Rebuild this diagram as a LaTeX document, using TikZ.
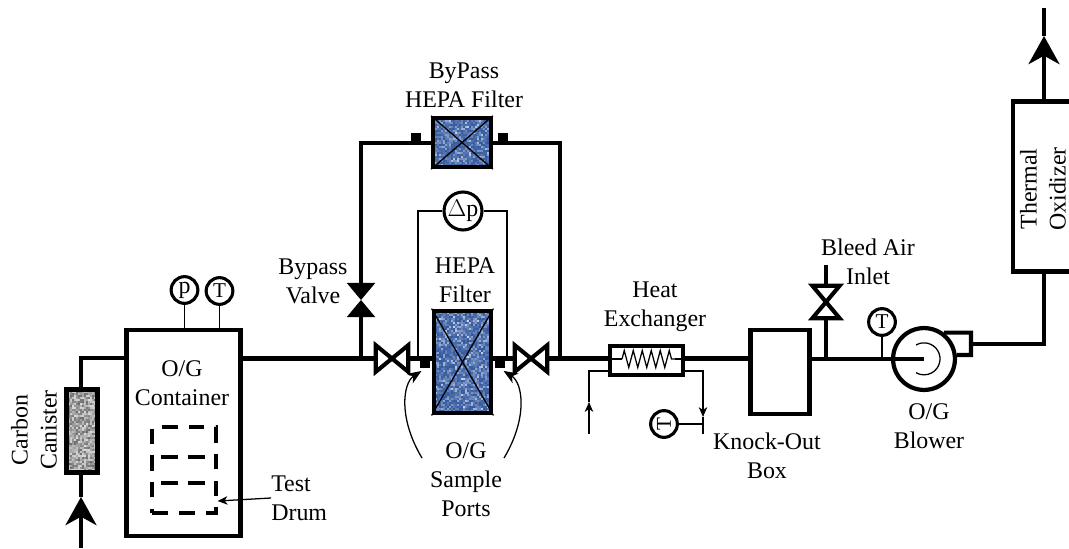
\documentclass[tikz,border=0pt]{standalone}
\usepackage{fontspec}
\usetikzlibrary{arrows.meta,decorations.pathmorphing}
\setmainfont{Liberation Serif}
\definecolor{hepablue}{RGB}{50,88,158}
\definecolor{canistergray}{RGB}{70,70,70}
\tikzset{
	pipe/.style={line width=2.9pt},
	sense/.style={line width=0.9pt},
	flowtip/.style={-{Stealth[length=20pt,width=22pt,inset=6pt]}},
	smalltip/.style={-{Stealth[length=7pt,width=6pt,inset=2pt]}},
	porttip/.style={-{Stealth[length=10pt,width=8pt,inset=3pt]}},
	vessel/.style={draw, line width=3pt, inner sep=0pt},
	gauge/.style={draw, circle, line width=2.2pt, fill=white, inner sep=0pt, minimum size=19pt, font=\fontsize{15}{15}\selectfont},
	valvebox/.style={inner sep=0pt, minimum width=22.7pt, minimum height=18.5pt},
	port/.style={fill=black, inner sep=0pt, minimum size=7pt},
	caption/.style={align=center, font=\fontsize{17}{20.6}\selectfont}
}
\begin{document}
\begin{tikzpicture}[x=0.025cm,y=0.025cm]
	\useasboundingbox (0,0) rectangle (1069,548);
	\pgfmathsetseed{11}
	% filter media
	\foreach \i in {433,435,...,491} {\foreach \j in {134,136,...,237} {
		\pgfmathsetmacro{\tint}{int(100-75*rnd*rnd)}
		\fill[hepablue!\tint!white] (\i,\j) rectangle ++(2.3,2.3);
	}}
	\foreach \i in {433,435,...,491} {\foreach \j in {380,382,...,430} {
		\pgfmathsetmacro{\tint}{int(100-75*rnd*rnd)}
		\fill[hepablue!\tint!white] (\i,\j) rectangle ++(2.3,2.3);
	}}
	\foreach \i in {66,68,...,97} {\foreach \j in {75,77,...,158} {
		\pgfmathsetmacro{\tint}{int(20+60*rnd)}
		\fill[canistergray!\tint!white] (\i,\j) rectangle ++(2.3,2.3);
	}}
	% vessels
	\node[vessel, minimum width=81pt, minimum height=147pt] (container) at (183.5,115) {};
	\node[vessel, minimum width=22pt, minimum height=59pt] (canister) at (82,117) {};
	\node[vessel, minimum width=41pt, minimum height=73pt] (hepa) at (462.5,186) {};
	\node[vessel, minimum width=41pt, minimum height=35pt] (bypass) at (462,405.5) {};
	\node[vessel, minimum width=52pt, minimum height=21pt] (exchanger) at (646.5,187.5) {};
	\node[vessel, minimum width=42pt, minimum height=60pt] (knockout) at (780,176) {};
	\node[vessel, minimum width=70pt, minimum height=121pt] (oxidizer) at (1062,361.5) {};
	\node[vessel, circle, minimum size=44pt] (blower) at (924,189) {};
	\node[draw, line width=2.8pt, dash pattern=on 11pt off 8pt, inner sep=0pt, minimum width=45pt, minimum height=61pt] (drum) at (184,78) {};
	\draw[sense] (hepa.north west) -- (hepa.south east) (hepa.north east) -- (hepa.south west);
	\draw[sense] (bypass.north west) -- (bypass.south east) (bypass.north east) -- (bypass.south west);
	% valves
	\node[valvebox] (leftvalve) at (392,189.5) {};
	\node[valvebox] (rightvalve) at (531,189.5) {};
	\node[valvebox, minimum width=19pt, minimum height=22.7pt] (bleedvalve) at (826,246) {};
	\node[valvebox, minimum width=20pt, minimum height=24pt] (bypassvalve) at (361,248) {};
	\foreach \v in {leftvalve,rightvalve} {
		\draw[pipe] (\v.north west) -- (\v.south east) -- (\v.north east) -- (\v.south west) -- cycle;
	}
	\draw[pipe] (bleedvalve.north west) -- (bleedvalve.north east) -- (bleedvalve.south west) -- (bleedvalve.south east) -- cycle;
	\fill (bypassvalve.north west) -- (bypassvalve.north east) -- (bypassvalve.south west) -- (bypassvalve.south east) -- cycle;
	% pipe junctions
	\coordinate (inletend) at (81,0);
	\coordinate (inlettip) at (81,51);
	\coordinate (inletbend) at (81,190);
	\coordinate (bypasstee) at (361,189.5);
	\coordinate (bypassleft) at (361,405);
	\coordinate (bypassright) at (560,405);
	\coordinate (returntee) at (560,189.5);
	\coordinate (bleedtee) at (826,189.5);
	\coordinate (bleedend) at (826,283);
	\coordinate (outletbend) at (1044,204);
	\coordinate (voluteout) at (971,204);
	\coordinate (volutecorner) at (971,193);
	\coordinate (exhausttip) at (1044,512);
	\coordinate (exhaustend) at (1044,540);
	% pipes
	\draw[pipe, flowtip] (inletend) -- (inlettip);
	\draw[pipe] (inlettip) -- (canister.south -| inlettip);
	\draw[pipe] (canister.north -| inletbend) -- (inletbend) -- (inletbend -| container.west);
	\draw[pipe] (bypasstee -| container.east) -- (leftvalve.west);
	\draw[pipe] (leftvalve.east) -- (hepa.west |- leftvalve);
	\draw[pipe] (hepa.east |- rightvalve) -- (rightvalve.west);
	\draw[pipe] (rightvalve.east) -- (exchanger.west |- rightvalve);
	\draw[pipe] (exchanger.east |- rightvalve) -- (knockout.west |- rightvalve);
	\draw[pipe] (knockout.east |- blower) -- (blower.center);
	\draw[pipe] (bypasstee) -- (bypassvalve.south);
	\draw[pipe] (bypassvalve.north) -- (bypassleft) -- (bypass.west |- bypassleft);
	\draw[pipe] (bypass.east |- bypassright) -- (bypassright) -- (returntee);
	\draw[pipe] (bleedtee) -- (bleedvalve.south);
	\draw[pipe] (bleedvalve.north) -- (bleedend);
	\draw[pipe, flowtip] (oxidizer.north -| exhausttip) -- (exhausttip);
	\draw[pipe] (exhausttip) -- (exhaustend);
	\draw[pipe] (oxidizer.south -| outletbend) -- (outletbend) -- (voluteout);
	\draw[pipe] (blower.53) -| (volutecorner) -- (blower.7);
	\draw[sense] (916,203) arc (120:-120:16);
	% test drum shelves
	\coordinate (shelfa) at (161,91);
	\coordinate (shelfb) at (161,65);
	\draw[line width=2.8pt, dash pattern=on 12pt off 7pt] (shelfa) -- (shelfa -| drum.east);
	\draw[line width=2.8pt, dash pattern=on 12pt off 7pt] (shelfb) -- (shelfb -| drum.east);
	% sample ports
	\node[port] (portleft) at (425,184.5) {};
	\node[port] (portright) at (500,184.5) {};
	\node[port] (portbya) at (416,410) {};
	\node[port] (portbyb) at (503,410) {};
	% gauges
	\node[gauge, font=\fontsize{17}{17}\selectfont] (pgauge) at (184.5,258) {p};
	\node[gauge] (tgauge) at (219.5,257) {T};
	\node[gauge, minimum size=27pt, font=\fontsize{17}{17}\selectfont] (dpgauge) at (463,337) {$\Delta$p};
	\node[gauge, rotate=90] (coolgauge) at (664,124) {T};
	\node[gauge] (blowergauge) at (882,226) {T};
	\draw[sense] (pgauge) -- (pgauge |- container.north);
	\draw[sense] (tgauge) -- (tgauge |- container.north);
	\draw[sense] (blowergauge.south) -- (blowergauge |- blower);
	\coordinate (dpleft) at (418,337);
	\coordinate (dpright) at (507,337);
	\draw[sense] (dpgauge.west) -- (dpleft) -- (dpleft |- leftvalve);
	\draw[sense] (dpgauge.east) -- (dpright) -- (dpright |- leftvalve);
	% heat exchanger
	\coordinate (coilin) at (622,189);
	\coordinate (coilout) at (675,189);
	\draw[sense] (exchanger.west |- coilin) -- (coilin);
	\draw[sense, decorate, decoration={zigzag, segment length=6.4pt, amplitude=6pt}] (coilin) -- (coilout);
	\draw[sense] (coilout) -- (exchanger.east |- coilout);
	\coordinate (coolinbend) at (589,177);
	\coordinate (coolintip) at (589,146);
	\coordinate (coolinend) at (589,114);
	\coordinate (cooloutbend) at (703,177);
	\coordinate (coolouttip) at (703,131);
	\coordinate (coolend) at (703,114);
	\draw[sense] (exchanger.west |- coolinbend) -- (coolinbend) -- (coolintip);
	\draw[sense, smalltip] (coolinend) -- (coolintip);
	\draw[sense, smalltip] (exchanger.east |- cooloutbend) -- (cooloutbend) -- (coolouttip);
	\draw[sense] (coolouttip) -- (coolend);
	\draw[sense] (coolgauge) -- (coolgauge -| coolend);
	% captions
	\node[caption, rotate=90] (canistertext) at (34,118) {Carbon\\Canister};
	\node[caption] (containertext) at (182,165) {O/G\\Container};
	\node[caption, align=left, anchor=west, inner sep=0pt] (drumtext) at (271,50) {Test\\Drum};
	\node[caption] (valvetext) at (313,267) {Bypass\\Valve};
	\node[caption] (bypasstext) at (464,463) {ByPass\\HEPA Filter};
	\node[caption] (hepatext) at (465,268) {HEPA\\Filter};
	\node[caption] (porttext) at (466,68) {O/G\\Sample\\Ports};
	\node[caption] (exchangertext) at (655,241) {Heat\\Exchanger};
	\node[caption] (knockouttext) at (767,92) {Knock-Out\\Box};
	\node[caption] (bleedtext) at (868,286) {Bleed Air\\Inlet};
	\node[caption] (blowertext) at (929,122) {O/G\\Blower};
	\node[caption, rotate=90] (oxidizertext) at (1043,359) {Thermal\\Oxidizer};
	% leaders
	\draw[sense, smalltip] (drumtext.west) -- (drum.east |- 0,47);
	\draw[sense, porttip, shorten >=3pt] (422,90) .. controls (398,130) and (403,165) .. (portleft.south);
	\draw[sense, porttip, shorten >=3pt] (504,90) .. controls (528,130) and (523,165) .. (portright.south);
\end{tikzpicture}
\end{document}
